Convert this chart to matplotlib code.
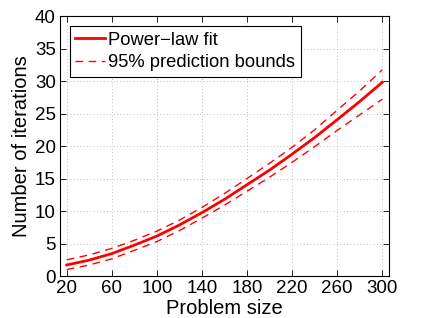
import matplotlib
matplotlib.use('Agg')
import matplotlib.pyplot as plt

plt.rcParams['font.family'] = ['Liberation Sans', 'DejaVu Sans']

# values
problem_size = [20, 40, 60, 80, 100, 120, 140, 160, 180, 200, 220, 240, 260, 280, 300]
fit = [1.7, 2.45, 3.45, 4.75, 6.15, 7.85, 9.75, 11.8, 14.05, 16.3, 18.75, 21.3, 24.05, 26.85, 29.8]
upper = [2.5, 3.25, 4.25, 5.5, 6.9, 8.6, 10.55, 12.7, 15.0, 17.35, 19.8, 22.5, 25.5, 28.5, 31.7]
lower = [1.0, 1.7, 2.65, 3.95, 5.3, 7.0, 8.9, 10.9, 13.05, 15.2, 17.5, 19.9, 22.4, 24.8, 27.2]

xticks = [20, 60, 100, 140, 180, 220, 260, 300]
yticks = [0, 5, 10, 15, 20, 25, 30, 35, 40]

fig = plt.figure(figsize=(4.23, 3.18), dpi=100)
ax = fig.add_axes([0.1418, 0.132, 0.7778, 0.8176])

ax.plot(problem_size, fit, color='red', lw=2, label='Power\u2212law fit')
ax.plot(problem_size, upper, color='red', lw=1, ls=(0, (5.5, 4)), label='95% prediction bounds')
ax.plot(problem_size, lower, color='red', lw=1, ls=(0, (5.5, 4)))

ax.set_xlim(14, 306)
ax.set_ylim(0, 40)
ax.set_xticks(xticks)
ax.set_yticks(yticks)
ax.tick_params(direction='in', top=True, right=True, labelsize=13.5, length=4, width=0.6, pad=3)
ax.grid(True, ls=(0, (1, 3)), color='#aaaaaa', lw=0.6)
for s in ax.spines.values():
    s.set_linewidth(0.8)

ax.set_xlabel('Problem size', fontsize=14.5, labelpad=1)
ax.set_ylabel('Number of iterations', fontsize=14.5, labelpad=3)

leg = ax.legend(loc='upper left', fontsize=13.2, fancybox=False, edgecolor='black',
                framealpha=1, handlelength=1.6, handletextpad=0.2, borderpad=0.3,
                labelspacing=0.3, borderaxespad=0, bbox_to_anchor=(0.0304, 0.9615))
leg.get_frame().set_linewidth(0.8)

fig.savefig('out.png', dpi=100)
